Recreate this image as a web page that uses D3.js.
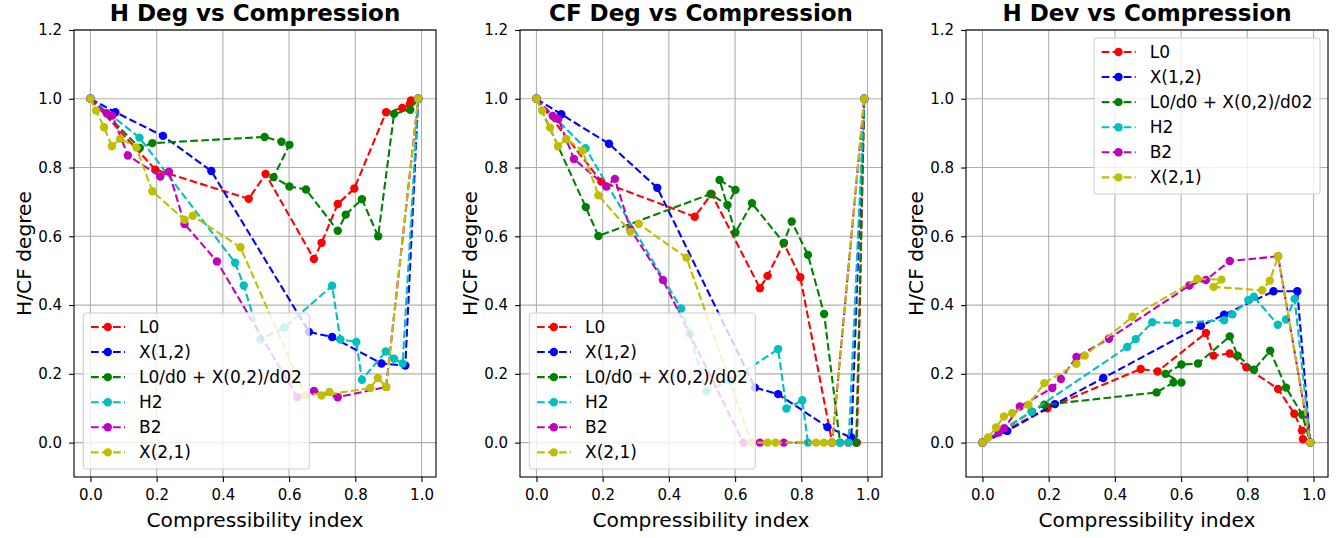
<!DOCTYPE html>
<html>
<head>
<meta charset="utf-8">
<script src="https://cdn.jsdelivr.net/npm/d3@7"></script>
<style>
  body { margin: 0; background: #fff; }
  text { font-family: "DejaVu Sans", sans-serif; fill: #000; }
</style>
</head>
<body>
<svg id="chart" width="1343" height="538"></svg>
<script>
// Series names, in legend / drawing order
const seriesNames = ["L0", "X(1,2)", "L0/d0 + X(0,2)/d02", "H2", "B2", "X(2,1)"];
const seriesColors = ["#ff0000", "#0000ff", "#008000", "#00bfbf", "#bf00bf", "#bfbf00"];

const panelTitles = ["H Deg vs Compression", "CF Deg vs Compression", "H Dev vs Compression"];
const xTicks = [0, 0.2, 0.4, 0.6, 0.8, 1.0];
const yTicks = [0, 0.2, 0.4, 0.6, 0.8, 1.0, 1.2];

// Compressibility index for each series (same in every panel)
const xL0 = [0, 0.196, 0.478, 0.529, 0.675, 0.698, 0.747, 0.797, 0.893, 0.942, 0.965, 0.968, 0.99];
const xX12 = [0, 0.075, 0.219, 0.365, 0.66, 0.730, 0.879, 0.951, 0.99];
const xL0d0 = [0, 0.149, 0.187, 0.526, 0.577, 0.601, 0.553, 0.601, 0.651, 0.747, 0.771, 0.820, 0.869, 0.917, 0.966, 0.99];
const xH2 = [0, 0.148, 0.437, 0.463, 0.513, 0.586, 0.730, 0.755, 0.803, 0.820, 0.892, 0.917, 0.943, 0.99];
const xB2 = [0, 0.049, 0.066, 0.113, 0.211, 0.237, 0.284, 0.382, 0.625, 0.675, 0.747, 0.893, 0.99];
const xX21 = [0, 0.017, 0.041, 0.065, 0.090, 0.139, 0.187, 0.284, 0.309, 0.453, 0.649, 0.722, 0.698, 0.845, 0.868, 0.893, 0.99];

// H degree
const hDegL0 = [1, 0.794, 0.709, 0.781, 0.534, 0.581, 0.694, 0.739, 0.961, 0.973, 0.985, 0.995, 1];
const hDegX12 = [1, 0.961, 0.892, 0.790, 0.322, 0.307, 0.230, 0.224, 1];
const hDegL0d0 = [1, 0.857, 0.871, 0.889, 0.875, 0.866, 0.772, 0.745, 0.736, 0.616, 0.663, 0.708, 0.600, 0.956, 0.968, 1];
const hDegH2 = [1, 0.887, 0.523, 0.457, 0.300, 0.335, 0.456, 0.300, 0.293, 0.183, 0.265, 0.244, 0.230, 1];
const hDegB2 = [1, 0.958, 0.951, 0.835, 0.774, 0.788, 0.636, 0.527, 0.132, 0.150, 0.132, 0.162, 1];
const hDegX21 = [1, 0.966, 0.917, 0.862, 0.884, 0.858, 0.731, 0.648, 0.660, 0.568, 0.138, 0.147, 0.137, 0.159, 0.188, 0.162, 1];

// CF degree
const cfDegL0 = [1, 0.759, 0.657, 0.723, 0.449, 0.485, 0.580, 0.481, 0, 0, 0, 0, 1];
const cfDegX12 = [1, 0.955, 0.869, 0.741, 0.160, 0.141, 0.045, 0.015, 1];
const cfDegL0d0 = [1, 0.685, 0.601, 0.723, 0.691, 0.735, 0.764, 0.611, 0.696, 0.581, 0.643, 0.546, 0.374, 0, 0, 1];
const cfDegH2 = [1, 0.856, 0.390, 0.317, 0.149, 0.180, 0.272, 0.099, 0.123, 0, 0, 0, 0, 1];
const cfDegB2 = [1, 0.950, 0.941, 0.825, 0.745, 0.767, 0.620, 0.473, 0, 0, 0, 0, 1];
const cfDegX21 = [1, 0.966, 0.916, 0.862, 0.883, 0.849, 0.719, 0.613, 0.636, 0.538, 0, 0, 0, 0, 0, 0, 1];

// H deviation
const hDevL0 = [0, 0.100, 0.214, 0.207, 0.319, 0.253, 0.259, 0.219, 0.156, 0.084, 0.035, 0.010, 0];
const hDevX12 = [0, 0.034, 0.112, 0.188, 0.340, 0.372, 0.440, 0.440, 0];
const hDevL0d0 = [0, 0.090, 0.110, 0.146, 0.175, 0.175, 0.200, 0.227, 0.230, 0.309, 0.253, 0.212, 0.267, 0.160, 0.081, 0];
const hDevH2 = [0, 0.090, 0.278, 0.301, 0.350, 0.348, 0.356, 0.373, 0.414, 0.424, 0.343, 0.358, 0.418, 0];
const hDevB2 = [0, 0.029, 0.042, 0.105, 0.159, 0.185, 0.249, 0.302, 0.457, 0.473, 0.528, 0.542, 0];
const hDevX21 = [0, 0.015, 0.044, 0.076, 0.086, 0.110, 0.173, 0.229, 0.253, 0.366, 0.476, 0.474, 0.453, 0.443, 0.471, 0.542, 0];

const xSeries = [xL0, xX12, xL0d0, xH2, xB2, xX21];
const panelValues = [
   [hDegL0, hDegX12, hDegL0d0, hDegH2, hDegB2, hDegX21],
   [cfDegL0, cfDegX12, cfDegL0d0, cfDegH2, cfDegB2, cfDegX21],
   [hDevL0, hDevX12, hDevL0d0, hDevH2, hDevB2, hDevX21]
];
const legendCorner = ["lower left", "lower left", "upper right"];

const svg = d3.select("#chart");

// Layout of each axes box
const axW = 362, axH = 447, axTop = 30, axLeft0 = 74, axStep = 446;

function drawPanel(p) {
   let left = axLeft0 + p * axStep;
   let g = svg.append("g").attr("transform", "translate(" + left + "," + axTop + ")");

   let x = d3.scaleLinear().domain([-0.0497, 1.0437]).range([0, axW]);
   let y = d3.scaleLinear().domain([-0.1, 1.2]).range([axH, 0]);

   // grid
   g.append("g").selectAll("line").data(xTicks).enter().append("line")
      .attr("x1", d => x(d)).attr("x2", d => x(d))
      .attr("y1", 0).attr("y2", axH)
      .attr("stroke", "#b0b0b0").attr("stroke-width", 1.1);
   g.append("g").selectAll("line").data(yTicks).enter().append("line")
      .attr("y1", d => y(d)).attr("y2", d => y(d))
      .attr("x1", 0).attr("x2", axW)
      .attr("stroke", "#b0b0b0").attr("stroke-width", 1.1);

   // series
   let line = d3.line().x(d => x(d[0])).y(d => y(d[1]));
   for (let s = 0; s < seriesNames.length; s++) {
      let pts = xSeries[s].map((v, k) => [v, panelValues[p][s][k]]);
      g.append("path")
         .datum(pts)
         .attr("d", line)
         .attr("fill", "none")
         .attr("stroke", seriesColors[s])
         .attr("stroke-width", 2.1)
         .attr("stroke-dasharray", "7.7,3.3");
      g.append("g").selectAll("circle").data(pts).enter().append("circle")
         .attr("cx", d => x(d[0]))
         .attr("cy", d => y(d[1]))
         .attr("r", 4.2)
         .attr("fill", seriesColors[s]);
   }

   // axes
   let xAxis = g.append("g")
      .attr("transform", "translate(0," + axH + ")")
      .call(d3.axisBottom(x).tickValues(xTicks).tickFormat(d3.format(".1f"))
         .tickSize(4.9).tickPadding(7.5).tickSizeOuter(0));
   let yAxis = g.append("g")
      .call(d3.axisLeft(y).tickValues(yTicks).tickFormat(d3.format(".1f"))
         .tickSize(4.9).tickPadding(7).tickSizeOuter(0));
   [xAxis, yAxis].forEach(a => {
      a.select(".domain").remove();
      a.selectAll(".tick line").attr("stroke", "#000").attr("stroke-width", 1.1);
      a.selectAll(".tick text").style("font-size", "15px")
         .style("font-family", "'DejaVu Sans', sans-serif").attr("fill", "#000");
   });

   // frame
   g.append("rect")
      .attr("width", axW).attr("height", axH)
      .attr("fill", "none").attr("stroke", "#000").attr("stroke-width", 1.1);

   // titles and labels
   g.append("text")
      .attr("x", axW / 2).attr("y", -8.7)
      .attr("text-anchor", "middle")
      .style("font-size", "23px").style("font-weight", "bold")
      .text(panelTitles[p]);
   g.append("text")
      .attr("x", axW / 2).attr("y", 527 - axTop)
      .attr("text-anchor", "middle")
      .style("font-size", "20.2px")
      .text("Compressibility index");
   g.append("text")
      .attr("transform", "translate(-43," + (axH / 2) + ") rotate(-90)")
      .attr("text-anchor", "middle")
      .style("font-size", "20.2px")
      .text("H/CF degree");

   // legend
   let lw = 226, lh = 156;
   let lx = legendCorner[p] == "upper right" ? axW - 8 - lw : 9.3;
   let ly = legendCorner[p] == "upper right" ? 8 : axH - 8 - lh;
   let leg = g.append("g").attr("transform", "translate(" + lx + "," + ly + ")");
   leg.append("rect")
      .attr("width", lw).attr("height", lh).attr("rx", 3)
      .attr("fill", "#fff").attr("fill-opacity", 0.8)
      .attr("stroke", "#cccccc").attr("stroke-width", 1);
   seriesNames.forEach((name, s) => {
      let cy = 14 + s * 25.07;
      leg.append("line")
         .attr("x1", 7.7).attr("x2", 41.7).attr("y1", cy).attr("y2", cy)
         .attr("stroke", seriesColors[s]).attr("stroke-width", 2.1)
         .attr("stroke-dasharray", "7.7,3.3");
      leg.append("circle")
         .attr("cx", 24.5).attr("cy", cy).attr("r", 4.2)
         .attr("fill", seriesColors[s]);
      leg.append("text")
         .attr("x", 55.7).attr("y", cy).attr("dy", "0.36em")
         .style("font-size", "17px")
         .text(name);
   });
}

for (let p = 0; p < 3; p++) {
   drawPanel(p);
}
</script>
</body>
</html>
